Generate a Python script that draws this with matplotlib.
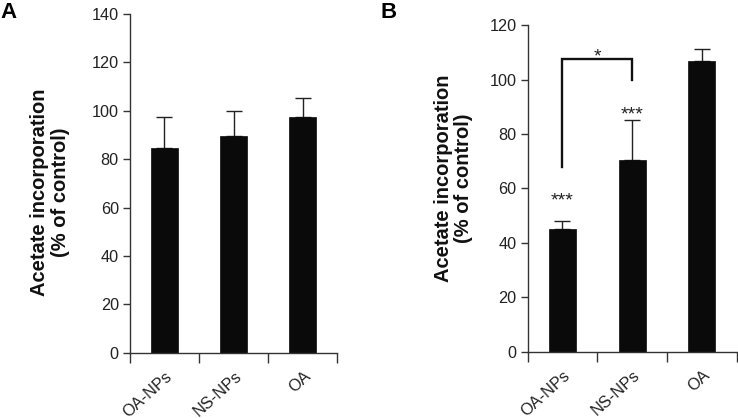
import matplotlib
matplotlib.use("Agg")
import matplotlib.pyplot as plt
import numpy as np

plt.rcParams['font.family'] = ['Liberation Sans', 'DejaVu Sans']

categories = ["OA-NPs", "NS-NPs", "OA"]
values_a = [84.5, 89.5, 97.3]
errors_a = [13.0, 10.5, 7.8]
values_b = [45.1, 70.4, 106.9]
errors_b = [3.0, 14.8, 4.3]
sig_b = ["***", "***", ""]
sig_b_y = [53.8, 85.2, 0.0]
bracket_b = (0, 1, "*")
bracket_y = [68, 107.6, 107.6, 100]
bracket_label_y = 106.8
ylabel = "Acetate incorporation\n(% of control)"

fig = plt.figure(figsize=(7.38, 4.18), dpi=100)
axA = fig.add_axes([0.176, 0.156, 0.281, 0.8105])
axB = fig.add_axes([0.715, 0.1586, 0.283, 0.7809])

spine_col = "#333333"
txt_col = "#222222"
FS = 11.7

def style(ax, vals, errs, ymax):
    x = np.arange(len(vals))
    ax.bar(x, vals, width=0.39, color="#0a0a0a", edgecolor="#0a0a0a", linewidth=0.5, zorder=2)
    ax.errorbar(x, vals, yerr=[np.zeros(len(errs)), errs], fmt="none",
                ecolor="#222222", elinewidth=1.0, capsize=6, capthick=1.0, zorder=1)
    ax.set_xlim(-0.5, len(vals) - 0.5)
    ax.set_ylim(0, ymax)
    ax.set_yticks(np.arange(0, ymax + 1, 20))
    ax.set_xticks(np.arange(-0.5, len(vals), 1.0))
    ax.set_xticklabels([])
    ax.tick_params(axis="x", length=7, width=1, color=spine_col, direction="out")
    ax.tick_params(axis="y", length=5, width=1, color=spine_col, labelsize=FS,
                   labelcolor=txt_col, pad=3)
    for s in ["top", "right"]:
        ax.spines[s].set_visible(False)
    for s in ["left", "bottom"]:
        ax.spines[s].set_color(spine_col)
        ax.spines[s].set_linewidth(1)
    for i, c in enumerate(categories):
        ax.annotate(c, xy=(i, 0), xycoords=("data", "axes fraction"),
                    xytext=(0.5, -11.5), textcoords="offset points",
                    rotation=42, ha="right", va="top", rotation_mode="anchor",
                    fontsize=FS, color=txt_col)

style(axA, values_a, errors_a, 140)
style(axB, values_b, errors_b, 120)

fig.text(0.0678, 0.5395, ylabel, rotation=90, ha="center", va="center",
         fontsize=14.5, fontweight="bold", linespacing=1.1, color="#111111")
fig.text(0.6145, 0.573, ylabel, rotation=90, ha="center", va="center",
         fontsize=14.5, fontweight="bold", linespacing=1.1, color="#111111")

# significance marks in B
for i, s in enumerate(sig_b):
    if s:
        axB.text(i, sig_b_y[i], s, ha="center", va="baseline",
                 fontsize=14, color=txt_col)
i0, i1, lab = bracket_b
axB.plot([i0, i0, i1, i1], bracket_y, color="#111111", lw=1.7,
         solid_joinstyle="miter")
axB.text((i0 + i1) / 2, bracket_label_y, lab, ha="center", va="baseline",
         fontsize=14, color=txt_col)

fig.text(0.0, 0.995, "A", fontsize=16, fontweight="bold", va="top", ha="left")
fig.text(0.516, 0.995, "B", fontsize=16, fontweight="bold", va="top", ha="left")

fig.savefig("out.png", dpi=100)
